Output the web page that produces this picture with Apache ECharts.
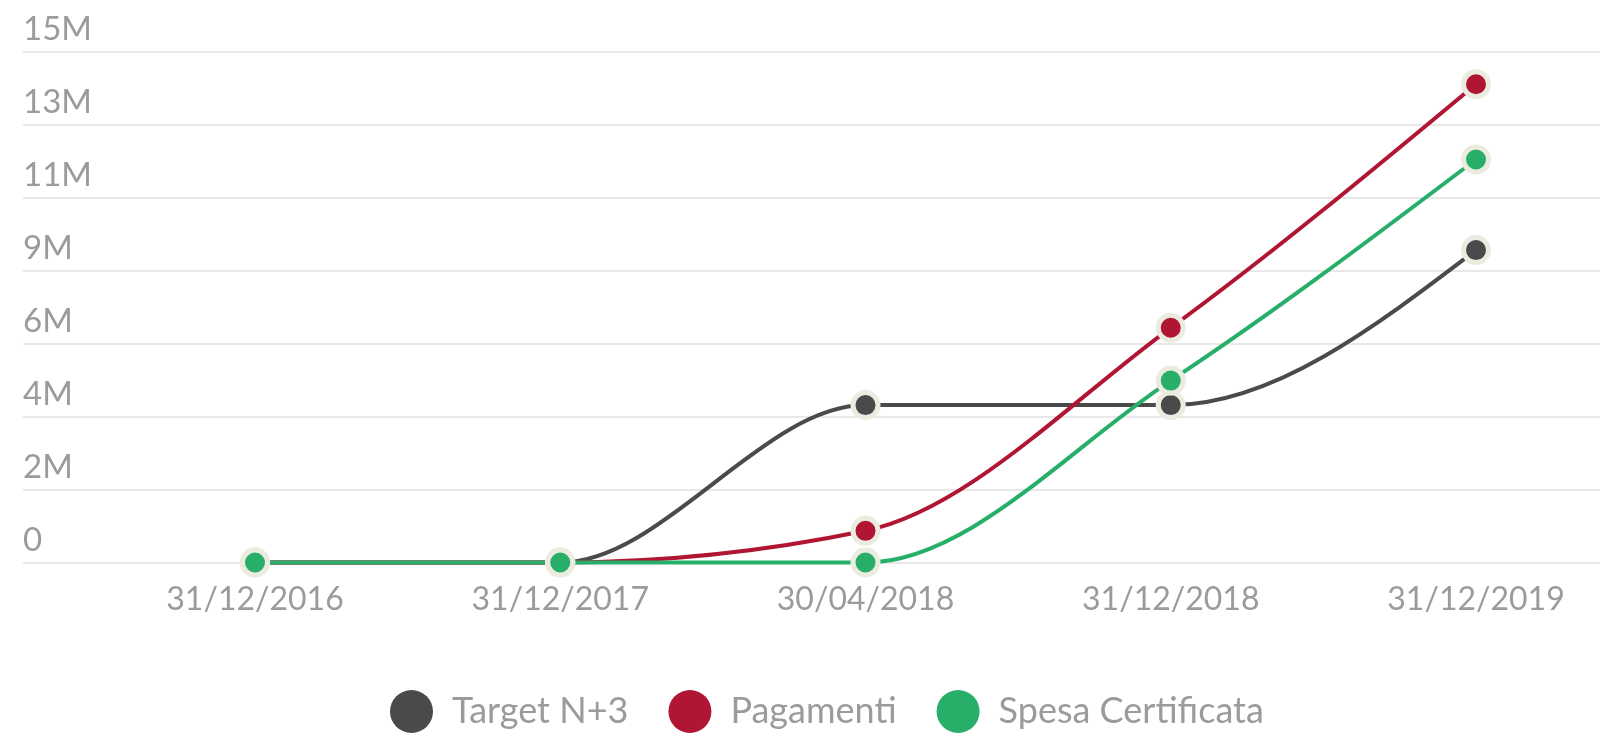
<!DOCTYPE html>
<html>
<head>
<meta charset="utf-8">
<script src="https://cdn.jsdelivr.net/npm/echarts@6/dist/echarts.min.js"></script>
<style>
html,body{margin:0;padding:0;background:#fff;}
#chart{width:1600px;height:734px;}
</style>
</head>
<body>
<div id="chart"></div>
<script>
const categories = ['31/12/2016', '31/12/2017', '30/04/2018', '31/12/2018', '31/12/2019'];
const targetN3 = [0, 0, 4620000, 4620000, 9170000];
const pagamenti = [0, 0, 930000, 6890000, 14040000];
const spesaCertificata = [0, 0, 0, 5340000, 11830000];
const seriesNames = ['Target N+3', 'Pagamenti', 'Spesa Certificata'];
const seriesColors = ['#4a4a4a', '#b01533', '#27ae68'];
const yMax = 15000000;
const yInterval = yMax / 7;

const FONT = 'Lato';
const LABEL_COLOR = '#9b9b9b';

const chart = echarts.init(document.getElementById('chart'));

// Monotone-X cubic path (d3 style) through pixel points given by the axes
function monotonePath(pts) {
  const n = pts.length;
  const h = [], s = [], t = [];
  for (let i = 0; i < n - 1; i++) {
    h[i] = pts[i + 1][0] - pts[i][0];
    s[i] = (pts[i + 1][1] - pts[i][1]) / h[i];
  }
  for (let i = 1; i < n - 1; i++) {
    const s0 = s[i - 1], s1 = s[i], h0 = h[i - 1], h1 = h[i];
    const p = (s0 * h1 + s1 * h0) / (h0 + h1);
    t[i] = (Math.sign(s0) + Math.sign(s1)) *
      Math.min(Math.abs(s0), Math.abs(s1), 0.5 * Math.abs(p)) || 0;
  }
  t[0] = (3 * s[0] - t[1]) / 2;
  t[n - 1] = (3 * s[n - 2] - t[n - 2]) / 2;
  let d = 'M' + pts[0][0] + ' ' + pts[0][1];
  for (let i = 0; i < n - 1; i++) {
    const dx = h[i] / 3;
    d += ' C' + (pts[i][0] + dx) + ' ' + (pts[i][1] + t[i] * dx) +
      ' ' + (pts[i + 1][0] - dx) + ' ' + (pts[i + 1][1] - t[i + 1] * dx) +
      ' ' + pts[i + 1][0] + ' ' + pts[i + 1][1];
  }
  return d;
}

function pointSeries(name, data, color) {
  return {
    name: name,
    type: 'line',
    xAxisIndex: 1,
    yAxisIndex: 1,
    data: data,
    z: 3,
    symbol: 'circle',
    symbolSize: 25,
    showAllSymbol: true,
    lineStyle: { width: 0, opacity: 0 },
    itemStyle: { color: color, borderColor: '#ecebe0', borderWidth: 5 },
    emphasis: { disabled: true },
    animation: false
  };
}

function curveSeries(name, data, color) {
  return {
    name: name,
    type: 'custom',
    coordinateSystem: 'cartesian2d',
    xAxisIndex: 1,
    yAxisIndex: 1,
    z: 2,
    data: [[0, data[0]]],
    itemStyle: { color: color },
    silent: true,
    animation: false,
    clip: false,
    renderItem: function (params, api) {
      const pts = data.map(function (v, i) { return api.coord([i, v]); });
      return {
        type: 'path',
        shape: { pathData: monotonePath(pts) },
        style: { fill: 'none', stroke: color, lineWidth: 4, lineJoin: 'round' }
      };
    }
  };
}

chart.setOption({
  animation: false,
  backgroundColor: '#ffffff',
  textStyle: { fontFamily: FONT },
  grid: [
    { left: 23, right: 0, top: 51.5, bottom: 171.5, containLabel: false },
    { left: 255, right: 124, top: 51.5, bottom: 171.5, containLabel: false }
  ],
  legend: {
    left: 385,
    top: 685,
    icon: 'circle',
    itemWidth: 43,
    itemHeight: 43,
    itemGap: 40,
    data: seriesNames,
    itemStyle: { borderWidth: 0 },
    textStyle: { color: LABEL_COLOR, fontSize: 36, fontFamily: FONT, padding: [0, 0, 0, 14] }
  },
  xAxis: [
    { gridIndex: 0, type: 'category', data: categories, show: false },
    {
      gridIndex: 1,
      type: 'category',
      data: categories,
      boundaryGap: false,
      axisLine: { show: false },
      axisTick: { show: false },
      splitLine: { show: false },
      axisLabel: { color: LABEL_COLOR, fontSize: 32, fontFamily: FONT, margin: 21 }
    }
  ],
  yAxis: [
    {
      gridIndex: 0,
      type: 'value',
      min: 0,
      max: yMax,
      interval: yInterval,
      axisLine: { show: false },
      axisTick: { show: false },
      splitLine: { show: true, lineStyle: { color: '#e8e8e8', width: 2 } },
      axisLabel: {
        inside: true,
        margin: 0,
        align: 'left',
        verticalAlign: 'bottom',
        padding: [0, 0, 6, 0],
        color: LABEL_COLOR,
        fontSize: 33,
        fontFamily: FONT,
        formatter: function (v) { return v === 0 ? '0' : Math.round(v / 1e6) + 'M'; }
      }
    },
    { gridIndex: 1, type: 'value', min: 0, max: yMax, interval: yInterval, show: false }
  ],
  series: [
    pointSeries(seriesNames[0], targetN3, seriesColors[0]),
    pointSeries(seriesNames[1], pagamenti, seriesColors[1]),
    pointSeries(seriesNames[2], spesaCertificata, seriesColors[2]),
    curveSeries(seriesNames[0], targetN3, seriesColors[0]),
    curveSeries(seriesNames[1], pagamenti, seriesColors[1]),
    curveSeries(seriesNames[2], spesaCertificata, seriesColors[2])
  ]
});
</script>
</body>
</html>
